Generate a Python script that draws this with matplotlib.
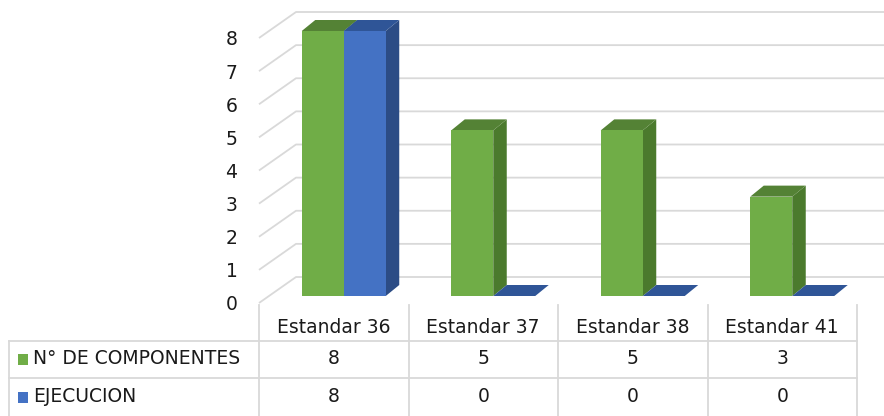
import numpy as np
import matplotlib.pyplot as plt
from matplotlib.patches import Polygon, Rectangle
from matplotlib.transforms import blended_transform_factory

categories = ['Estandar 36', 'Estandar 37', 'Estandar 38', 'Estandar 41']
componentes = [8, 5, 5, 3]
ejecucion = [8, 0, 0, 0]
series_names = ['N° DE COMPONENTES', 'EJECUCION']

# face colours: front, top, side
green = ('#70AD47', '#548235', '#4B7A2D')
blue = ('#4472C4', '#2F5597', '#2C4C85')

plt.rcParams['font.family'] = ['DejaVu Sans']
FS = 13.5
TXT = '#1a1a1a'
GRID = '#d9d9d9'

W, H = 884, 416
fig = plt.figure(figsize=(W / 100, H / 100), dpi=100)

# plot area (front plane) in pixels
L, R, B, T = 259, 857, 303, 10
ax = fig.add_axes([L / W, 1 - B / H, (R - L) / W, (B - T) / H])
ax.set_xlim(-0.5, 3.5)
ax.set_ylim(0, (B - T) / 33.125)
ax.patch.set_visible(False)
for s in ax.spines.values():
    s.set_visible(False)

px_x = (R - L) / 4.0
px_y = 33.125
wall_dx, wall_dy = 37 / px_x, 26 / px_y
off_x, off_y = 10 / px_x, 7 / px_y
dep_x, dep_y = 13.5 / px_x, 11 / px_y
bw = 42 / px_x

# floor / back wall gridlines
for v in range(9):
    ax.plot([-0.5, -0.5 + wall_dx, 3.5 + wall_dx + 0.2], [v, v + wall_dy, v + wall_dy],
            color=GRID, lw=1.3, clip_on=False, zorder=1, solid_capstyle='butt')


def bar3d(x0, h, cols):
    x0 = x0 + off_x
    y0 = off_y
    y1 = h + off_y
    front = [(x0, y0), (x0 + bw, y0), (x0 + bw, y1), (x0, y1)]
    top = [(x0, y1), (x0 + bw, y1), (x0 + bw + dep_x, y1 + dep_y), (x0 + dep_x, y1 + dep_y)]
    side = [(x0 + bw, y0), (x0 + bw + dep_x, y0 + dep_y), (x0 + bw + dep_x, y1 + dep_y), (x0 + bw, y1)]
    if h > 0:
        ax.add_patch(Polygon(side, closed=True, fc=cols[2], ec='none', zorder=3, clip_on=False))
    ax.add_patch(Polygon(top, closed=True, fc=cols[1], ec='none', zorder=3, clip_on=False))
    if h > 0:
        ax.add_patch(Polygon(front, closed=True, fc=cols[0], ec='none', zorder=3, clip_on=False))


x = np.arange(len(categories))
for i in x:
    bar3d(i - bw, componentes[i], green)
    bar3d(i, ejecucion[i], blue)

ax.set_yticks(range(9))
ax.set_yticklabels([str(v) for v in range(9)], fontsize=FS, color=TXT)
ax.set_xticks(x)
ax.set_xticklabels(categories, fontsize=FS, color=TXT)
ax.tick_params(axis='y', length=0, pad=15.5)
ax.tick_params(axis='x', length=0, pad=11)

# data table
tax = fig.add_axes([0, 0, 1, 1], zorder=-1)
tax.set_xlim(0, W)
tax.set_ylim(H, 0)
tax.axis('off')
bt = blended_transform_factory(ax.transData, tax.transData)

for b in np.arange(-0.5, 4.0, 1.0):
    tax.plot([b, b], [305, H], color=GRID, lw=1.3, transform=bt)
for yl in (341, 378):
    tax.plot([9, R], [yl, yl], color=GRID, lw=1.3)
tax.plot([9, 9], [341, H], color=GRID, lw=1.3)

rows_y = [359, 397]
for vals, yy in zip([componentes, ejecucion], rows_y):
    for i in x:
        tax.text(i, yy, str(vals[i]), transform=bt, ha='center', va='center',
                 fontsize=FS, color=TXT)

for name, cols, yy in zip(series_names, [green, blue], rows_y):
    tax.add_patch(Rectangle((18, yy - 5.5), 10, 11, fc=cols[0], ec='none'))
    tax.text(33, yy, name, ha='left', va='center', fontsize=FS, color=TXT)

fig.savefig('out.png', dpi=100)
